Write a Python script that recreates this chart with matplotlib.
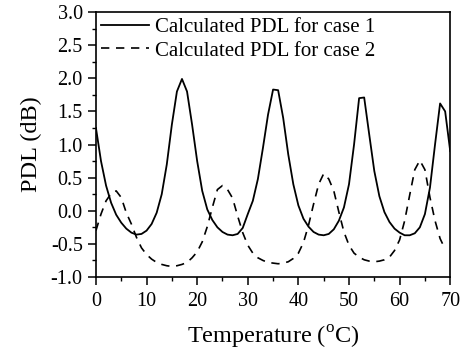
import numpy as np
import matplotlib
matplotlib.use("Agg")
import matplotlib.pyplot as plt
from matplotlib.ticker import MultipleLocator

plt.rcParams['font.family'] = ['Liberation Serif', 'DejaVu Serif']
plt.rcParams['mathtext.fontset'] = 'custom'
plt.rcParams['mathtext.rm'] = 'Liberation Serif'

# temperature samples (degC), 1 degree steps
temp1 = list(range(0, 71))
temp2 = list(range(0, 70))

# calculated PDL for case 1 (dB)
pdl_case1 = [1.25, 0.75, 0.38, 0.12, -0.06, -0.18, -0.27, -0.33, -0.36, -0.35,
             -0.30, -0.20, -0.03, 0.25, 0.70, 1.30, 1.80, 1.99, 1.80, 1.30,
             0.75, 0.30, 0.02, -0.14, -0.25, -0.32, -0.36, -0.37, -0.35, -0.26,
             -0.05, 0.15, 0.48, 0.95, 1.45, 1.83, 1.82, 1.40, 0.85, 0.40,
             0.08, -0.12, -0.24, -0.32, -0.36, -0.37, -0.35, -0.28, -0.15, 0.05,
             0.40, 1.00, 1.70, 1.71, 1.15, 0.60, 0.22, -0.02, -0.17, -0.27,
             -0.33, -0.37, -0.37, -0.34, -0.25, -0.05, 0.35, 1.00, 1.62, 1.50,
             0.90]

# calculated PDL for case 2 (dB)
pdl_case2 = [-0.30, -0.05, 0.15, 0.26, 0.30, 0.20, -0.03, -0.20, -0.40, -0.56,
             -0.66, -0.73, -0.78, -0.81, -0.83, -0.84, -0.83, -0.81, -0.78, -0.71,
             -0.62, -0.47, -0.24, 0.05, 0.32, 0.38, 0.32, 0.19, -0.08, -0.33,
             -0.52, -0.64, -0.71, -0.75, -0.78, -0.79, -0.80, -0.79, -0.77, -0.72,
             -0.64, -0.48, -0.22, 0.10, 0.40, 0.56, 0.48, 0.30, -0.02, -0.32,
             -0.52, -0.64, -0.70, -0.74, -0.76, -0.77, -0.76, -0.74, -0.70, -0.60,
             -0.44, -0.15, 0.24, 0.62, 0.76, 0.62, 0.20, -0.15, -0.42, -0.58]

fig = plt.figure(figsize=(4.68, 3.54), dpi=100)
ax = fig.add_axes([0.205, 0.2175, 0.757, 0.7485])

ax.plot(temp1, pdl_case1, color='black', lw=1.3, label='Calculated PDL for case 1')
ax.plot(temp2, pdl_case2, color='black', lw=1.2, dashes=(5, 4),
        label='Calculated PDL for case 2')

ax.set_xlim(0, 70)
ax.set_ylim(-1.0, 3.0)
ax.xaxis.set_major_locator(MultipleLocator(10))
ax.xaxis.set_minor_locator(MultipleLocator(5))
ax.yaxis.set_major_locator(MultipleLocator(0.5))
ax.yaxis.set_minor_locator(MultipleLocator(0.25))
ax.yaxis.set_major_formatter(plt.FormatStrFormatter('%.1f'))
ax.tick_params(which='major', direction='out', length=6, width=1.1, labelsize=14.5,
               top=False, right=False)
ax.tick_params(axis='x', which='major', pad=5)
ax.tick_params(which='minor', direction='out', length=3, width=1.0,
               top=False, right=False)
for s in ax.spines.values():
    s.set_linewidth(1.2)

ax.set_xlabel(r'Temperature ($^{\rm o}$C)', fontsize=17.5, labelpad=9)
ax.set_ylabel('PDL (dB)', fontsize=17.5, labelpad=6)

ax.legend(loc='upper left', frameon=False, fontsize=15, handlelength=2.3,
          handletextpad=0.3, borderaxespad=0.1, borderpad=0.15, labelspacing=0.2)

fig.savefig('out.png', dpi=100)
